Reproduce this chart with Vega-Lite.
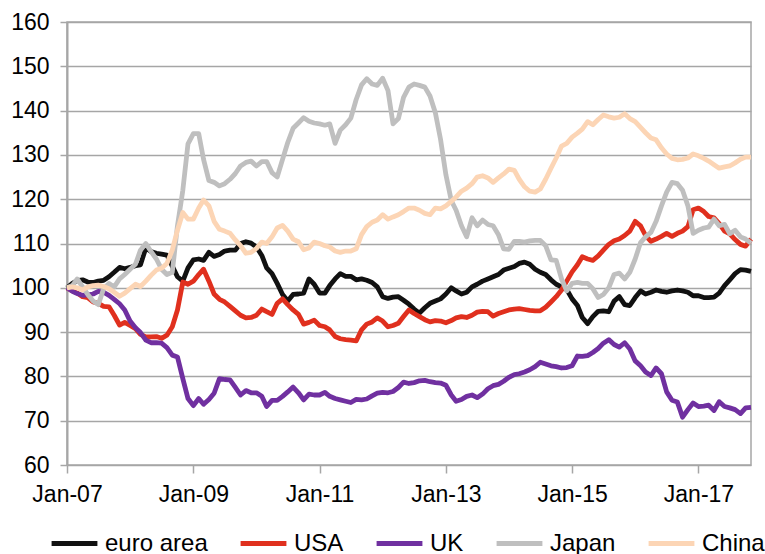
{
"$schema": "https://vega.github.io/schema/vega-lite/v6.json",
"width": 684, "height": 443,
"autosize": {"type": "none"},
"padding": {"left": 67, "top": 22, "right": 14, "bottom": 89},
"background": "white",
"config": {"view": {"stroke": "#a6a6a6", "strokeWidth": 1.5}, "font": "Liberation Sans"},
"data": {"values": [
{"d":"2007-01","s":"euro area","v":100},{"d":"2007-02","s":"euro area","v":101},{"d":"2007-03","s":"euro area","v":101.6},{"d":"2007-04","s":"euro area","v":101.8},{"d":"2007-05","s":"euro area","v":101.3},{"d":"2007-06","s":"euro area","v":101.2},{"d":"2007-07","s":"euro area","v":101.5},{"d":"2007-08","s":"euro area","v":101.7},{"d":"2007-09","s":"euro area","v":102.5},{"d":"2007-10","s":"euro area","v":103.5},{"d":"2007-11","s":"euro area","v":104.6},{"d":"2007-12","s":"euro area","v":104.3},
{"d":"2008-01","s":"euro area","v":104.6},{"d":"2008-02","s":"euro area","v":105},{"d":"2008-03","s":"euro area","v":105.2},{"d":"2008-04","s":"euro area","v":109},{"d":"2008-05","s":"euro area","v":108.2},{"d":"2008-06","s":"euro area","v":107.8},{"d":"2008-07","s":"euro area","v":107.6},{"d":"2008-08","s":"euro area","v":107.4},{"d":"2008-09","s":"euro area","v":104.9},{"d":"2008-10","s":"euro area","v":102.5},{"d":"2008-11","s":"euro area","v":101.5},{"d":"2008-12","s":"euro area","v":104.5},
{"d":"2009-01","s":"euro area","v":106.3},{"d":"2009-02","s":"euro area","v":106.5},{"d":"2009-03","s":"euro area","v":106.2},{"d":"2009-04","s":"euro area","v":108},{"d":"2009-05","s":"euro area","v":107.1},{"d":"2009-06","s":"euro area","v":107.5},{"d":"2009-07","s":"euro area","v":108.3},{"d":"2009-08","s":"euro area","v":108.5},{"d":"2009-09","s":"euro area","v":108.5},{"d":"2009-10","s":"euro area","v":110},{"d":"2009-11","s":"euro area","v":110.4},{"d":"2009-12","s":"euro area","v":110.1},
{"d":"2010-01","s":"euro area","v":109.2},{"d":"2010-02","s":"euro area","v":107.3},{"d":"2010-03","s":"euro area","v":104.5},{"d":"2010-04","s":"euro area","v":103.2},{"d":"2010-05","s":"euro area","v":101},{"d":"2010-06","s":"euro area","v":98.5},{"d":"2010-07","s":"euro area","v":97},{"d":"2010-08","s":"euro area","v":98.5},{"d":"2010-09","s":"euro area","v":98.6},{"d":"2010-10","s":"euro area","v":98.8},{"d":"2010-11","s":"euro area","v":102},{"d":"2010-12","s":"euro area","v":100.8},
{"d":"2011-01","s":"euro area","v":98.8},{"d":"2011-02","s":"euro area","v":98.8},{"d":"2011-03","s":"euro area","v":100.5},{"d":"2011-04","s":"euro area","v":102},{"d":"2011-05","s":"euro area","v":103.2},{"d":"2011-06","s":"euro area","v":102.6},{"d":"2011-07","s":"euro area","v":102.6},{"d":"2011-08","s":"euro area","v":101.8},{"d":"2011-09","s":"euro area","v":102},{"d":"2011-10","s":"euro area","v":101.7},{"d":"2011-11","s":"euro area","v":101.2},{"d":"2011-12","s":"euro area","v":100.2},
{"d":"2012-01","s":"euro area","v":98},{"d":"2012-02","s":"euro area","v":97.6},{"d":"2012-03","s":"euro area","v":97.9},{"d":"2012-04","s":"euro area","v":98},{"d":"2012-05","s":"euro area","v":97.2},{"d":"2012-06","s":"euro area","v":96.3},{"d":"2012-07","s":"euro area","v":95.2},{"d":"2012-08","s":"euro area","v":94.3},{"d":"2012-09","s":"euro area","v":95.5},{"d":"2012-10","s":"euro area","v":96.5},{"d":"2012-11","s":"euro area","v":97},{"d":"2012-12","s":"euro area","v":97.5},
{"d":"2013-01","s":"euro area","v":98.6},{"d":"2013-02","s":"euro area","v":100},{"d":"2013-03","s":"euro area","v":99.3},{"d":"2013-04","s":"euro area","v":98.6},{"d":"2013-05","s":"euro area","v":99},{"d":"2013-06","s":"euro area","v":100.2},{"d":"2013-07","s":"euro area","v":100.8},{"d":"2013-08","s":"euro area","v":101.5},{"d":"2013-09","s":"euro area","v":102},{"d":"2013-10","s":"euro area","v":102.5},{"d":"2013-11","s":"euro area","v":103},{"d":"2013-12","s":"euro area","v":104},
{"d":"2014-01","s":"euro area","v":104.4},{"d":"2014-02","s":"euro area","v":104.8},{"d":"2014-03","s":"euro area","v":105.5},{"d":"2014-04","s":"euro area","v":105.8},{"d":"2014-05","s":"euro area","v":105.3},{"d":"2014-06","s":"euro area","v":104.2},{"d":"2014-07","s":"euro area","v":103.5},{"d":"2014-08","s":"euro area","v":103},{"d":"2014-09","s":"euro area","v":101.8},{"d":"2014-10","s":"euro area","v":100.8},{"d":"2014-11","s":"euro area","v":100.2},{"d":"2014-12","s":"euro area","v":99.6},
{"d":"2015-01","s":"euro area","v":97.5},{"d":"2015-02","s":"euro area","v":96},{"d":"2015-03","s":"euro area","v":93.3},{"d":"2015-04","s":"euro area","v":91.9},{"d":"2015-05","s":"euro area","v":93.5},{"d":"2015-06","s":"euro area","v":94.7},{"d":"2015-07","s":"euro area","v":94.8},{"d":"2015-08","s":"euro area","v":94.6},{"d":"2015-09","s":"euro area","v":97},{"d":"2015-10","s":"euro area","v":98},{"d":"2015-11","s":"euro area","v":96.2},{"d":"2015-12","s":"euro area","v":96},
{"d":"2016-01","s":"euro area","v":97.8},{"d":"2016-02","s":"euro area","v":99.3},{"d":"2016-03","s":"euro area","v":98.6},{"d":"2016-04","s":"euro area","v":99},{"d":"2016-05","s":"euro area","v":99.5},{"d":"2016-06","s":"euro area","v":99.2},{"d":"2016-07","s":"euro area","v":99},{"d":"2016-08","s":"euro area","v":99.3},{"d":"2016-09","s":"euro area","v":99.5},{"d":"2016-10","s":"euro area","v":99.3},{"d":"2016-11","s":"euro area","v":99},{"d":"2016-12","s":"euro area","v":98.2},
{"d":"2017-01","s":"euro area","v":98.2},{"d":"2017-02","s":"euro area","v":97.8},{"d":"2017-03","s":"euro area","v":97.8},{"d":"2017-04","s":"euro area","v":97.9},{"d":"2017-05","s":"euro area","v":98.8},{"d":"2017-06","s":"euro area","v":100.5},{"d":"2017-07","s":"euro area","v":101.8},{"d":"2017-08","s":"euro area","v":103.2},{"d":"2017-09","s":"euro area","v":104.1},{"d":"2017-10","s":"euro area","v":104},{"d":"2017-11","s":"euro area","v":103.7},
{"d":"2007-01","s":"USA","v":100},{"d":"2007-02","s":"USA","v":99.3},{"d":"2007-03","s":"USA","v":98.8},{"d":"2007-04","s":"USA","v":98},{"d":"2007-05","s":"USA","v":97.8},{"d":"2007-06","s":"USA","v":96.8},{"d":"2007-07","s":"USA","v":96.5},{"d":"2007-08","s":"USA","v":95.8},{"d":"2007-09","s":"USA","v":95.7},{"d":"2007-10","s":"USA","v":93.8},{"d":"2007-11","s":"USA","v":91.6},{"d":"2007-12","s":"USA","v":92.2},
{"d":"2008-01","s":"USA","v":91.5},{"d":"2008-02","s":"USA","v":90.8},{"d":"2008-03","s":"USA","v":89.5},{"d":"2008-04","s":"USA","v":88.9},{"d":"2008-05","s":"USA","v":88.9},{"d":"2008-06","s":"USA","v":89},{"d":"2008-07","s":"USA","v":88.6},{"d":"2008-08","s":"USA","v":89.3},{"d":"2008-09","s":"USA","v":91.2},{"d":"2008-10","s":"USA","v":95},{"d":"2008-11","s":"USA","v":101.3},{"d":"2008-12","s":"USA","v":100.8},
{"d":"2009-01","s":"USA","v":101.5},{"d":"2009-02","s":"USA","v":103},{"d":"2009-03","s":"USA","v":104.2},{"d":"2009-04","s":"USA","v":101.5},{"d":"2009-05","s":"USA","v":98.6},{"d":"2009-06","s":"USA","v":97.4},{"d":"2009-07","s":"USA","v":96.8},{"d":"2009-08","s":"USA","v":95.8},{"d":"2009-09","s":"USA","v":94.8},{"d":"2009-10","s":"USA","v":93.8},{"d":"2009-11","s":"USA","v":93.2},{"d":"2009-12","s":"USA","v":93.3},
{"d":"2010-01","s":"USA","v":93.8},{"d":"2010-02","s":"USA","v":95.2},{"d":"2010-03","s":"USA","v":94.6},{"d":"2010-04","s":"USA","v":94},{"d":"2010-05","s":"USA","v":96.5},{"d":"2010-06","s":"USA","v":97.5},{"d":"2010-07","s":"USA","v":96.2},{"d":"2010-08","s":"USA","v":95},{"d":"2010-09","s":"USA","v":94},{"d":"2010-10","s":"USA","v":91.8},{"d":"2010-11","s":"USA","v":92.2},{"d":"2010-12","s":"USA","v":92.7},
{"d":"2011-01","s":"USA","v":91.5},{"d":"2011-02","s":"USA","v":91.2},{"d":"2011-03","s":"USA","v":90.5},{"d":"2011-04","s":"USA","v":89},{"d":"2011-05","s":"USA","v":88.5},{"d":"2011-06","s":"USA","v":88.3},{"d":"2011-07","s":"USA","v":88.2},{"d":"2011-08","s":"USA","v":88},{"d":"2011-09","s":"USA","v":90.5},{"d":"2011-10","s":"USA","v":91.8},{"d":"2011-11","s":"USA","v":92.3},{"d":"2011-12","s":"USA","v":93.2},
{"d":"2012-01","s":"USA","v":92.5},{"d":"2012-02","s":"USA","v":91.2},{"d":"2012-03","s":"USA","v":91.5},{"d":"2012-04","s":"USA","v":92},{"d":"2012-05","s":"USA","v":93.5},{"d":"2012-06","s":"USA","v":95},{"d":"2012-07","s":"USA","v":94.2},{"d":"2012-08","s":"USA","v":93.5},{"d":"2012-09","s":"USA","v":92.8},{"d":"2012-10","s":"USA","v":92.3},{"d":"2012-11","s":"USA","v":92.6},{"d":"2012-12","s":"USA","v":92.5},
{"d":"2013-01","s":"USA","v":92.1},{"d":"2013-02","s":"USA","v":92.6},{"d":"2013-03","s":"USA","v":93.2},{"d":"2013-04","s":"USA","v":93.5},{"d":"2013-05","s":"USA","v":93.3},{"d":"2013-06","s":"USA","v":93.8},{"d":"2013-07","s":"USA","v":94.5},{"d":"2013-08","s":"USA","v":94.7},{"d":"2013-09","s":"USA","v":94.6},{"d":"2013-10","s":"USA","v":93.6},{"d":"2013-11","s":"USA","v":94.2},{"d":"2013-12","s":"USA","v":94.6},
{"d":"2014-01","s":"USA","v":95},{"d":"2014-02","s":"USA","v":95.2},{"d":"2014-03","s":"USA","v":95.3},{"d":"2014-04","s":"USA","v":95.1},{"d":"2014-05","s":"USA","v":94.9},{"d":"2014-06","s":"USA","v":94.8},{"d":"2014-07","s":"USA","v":94.8},{"d":"2014-08","s":"USA","v":95.6},{"d":"2014-09","s":"USA","v":96.8},{"d":"2014-10","s":"USA","v":98},{"d":"2014-11","s":"USA","v":99.5},{"d":"2014-12","s":"USA","v":101.5},
{"d":"2015-01","s":"USA","v":103.6},{"d":"2015-02","s":"USA","v":105.2},{"d":"2015-03","s":"USA","v":107},{"d":"2015-04","s":"USA","v":106.5},{"d":"2015-05","s":"USA","v":106.2},{"d":"2015-06","s":"USA","v":107.2},{"d":"2015-07","s":"USA","v":108.5},{"d":"2015-08","s":"USA","v":109.8},{"d":"2015-09","s":"USA","v":110.6},{"d":"2015-10","s":"USA","v":111},{"d":"2015-11","s":"USA","v":111.8},{"d":"2015-12","s":"USA","v":112.8},
{"d":"2016-01","s":"USA","v":115},{"d":"2016-02","s":"USA","v":114},{"d":"2016-03","s":"USA","v":111.8},{"d":"2016-04","s":"USA","v":110.5},{"d":"2016-05","s":"USA","v":111},{"d":"2016-06","s":"USA","v":111.6},{"d":"2016-07","s":"USA","v":112.3},{"d":"2016-08","s":"USA","v":111.6},{"d":"2016-09","s":"USA","v":112.3},{"d":"2016-10","s":"USA","v":112.8},{"d":"2016-11","s":"USA","v":113.8},{"d":"2016-12","s":"USA","v":117.6},
{"d":"2017-01","s":"USA","v":118},{"d":"2017-02","s":"USA","v":117.2},{"d":"2017-03","s":"USA","v":116.1},{"d":"2017-04","s":"USA","v":115.8},{"d":"2017-05","s":"USA","v":114.5},{"d":"2017-06","s":"USA","v":112.8},{"d":"2017-07","s":"USA","v":112.2},{"d":"2017-08","s":"USA","v":110.9},{"d":"2017-09","s":"USA","v":109.8},{"d":"2017-10","s":"USA","v":109.4},{"d":"2017-11","s":"USA","v":111},
{"d":"2007-01","s":"UK","v":100},{"d":"2007-02","s":"UK","v":99.2},{"d":"2007-03","s":"UK","v":98.7},{"d":"2007-04","s":"UK","v":98.3},{"d":"2007-05","s":"UK","v":98.4},{"d":"2007-06","s":"UK","v":98.6},{"d":"2007-07","s":"UK","v":99.2},{"d":"2007-08","s":"UK","v":99},{"d":"2007-09","s":"UK","v":98.3},{"d":"2007-10","s":"UK","v":97.4},{"d":"2007-11","s":"UK","v":96.4},{"d":"2007-12","s":"UK","v":95},
{"d":"2008-01","s":"UK","v":92.5},{"d":"2008-02","s":"UK","v":91},{"d":"2008-03","s":"UK","v":89.9},{"d":"2008-04","s":"UK","v":88.2},{"d":"2008-05","s":"UK","v":87.6},{"d":"2008-06","s":"UK","v":87.6},{"d":"2008-07","s":"UK","v":87.5},{"d":"2008-08","s":"UK","v":86.5},{"d":"2008-09","s":"UK","v":84.8},{"d":"2008-10","s":"UK","v":84.4},{"d":"2008-11","s":"UK","v":79.5},{"d":"2008-12","s":"UK","v":75},
{"d":"2009-01","s":"UK","v":73.4},{"d":"2009-02","s":"UK","v":75},{"d":"2009-03","s":"UK","v":73.7},{"d":"2009-04","s":"UK","v":74.8},{"d":"2009-05","s":"UK","v":76.2},{"d":"2009-06","s":"UK","v":79.5},{"d":"2009-07","s":"UK","v":79.3},{"d":"2009-08","s":"UK","v":79.2},{"d":"2009-09","s":"UK","v":77.5},{"d":"2009-10","s":"UK","v":75.8},{"d":"2009-11","s":"UK","v":76.8},{"d":"2009-12","s":"UK","v":76.3},
{"d":"2010-01","s":"UK","v":76.3},{"d":"2010-02","s":"UK","v":75.5},{"d":"2010-03","s":"UK","v":73.2},{"d":"2010-04","s":"UK","v":74.6},{"d":"2010-05","s":"UK","v":74.6},{"d":"2010-06","s":"UK","v":75.5},{"d":"2010-07","s":"UK","v":76.5},{"d":"2010-08","s":"UK","v":77.6},{"d":"2010-09","s":"UK","v":76.3},{"d":"2010-10","s":"UK","v":74.7},{"d":"2010-11","s":"UK","v":76},{"d":"2010-12","s":"UK","v":75.8},
{"d":"2011-01","s":"UK","v":75.8},{"d":"2011-02","s":"UK","v":76.4},{"d":"2011-03","s":"UK","v":75.5},{"d":"2011-04","s":"UK","v":75},{"d":"2011-05","s":"UK","v":74.7},{"d":"2011-06","s":"UK","v":74.4},{"d":"2011-07","s":"UK","v":74.1},{"d":"2011-08","s":"UK","v":74.8},{"d":"2011-09","s":"UK","v":74.7},{"d":"2011-10","s":"UK","v":74.9},{"d":"2011-11","s":"UK","v":75.6},{"d":"2011-12","s":"UK","v":76.2},
{"d":"2012-01","s":"UK","v":76.4},{"d":"2012-02","s":"UK","v":76.3},{"d":"2012-03","s":"UK","v":76.6},{"d":"2012-04","s":"UK","v":77.5},{"d":"2012-05","s":"UK","v":78.7},{"d":"2012-06","s":"UK","v":78.4},{"d":"2012-07","s":"UK","v":78.6},{"d":"2012-08","s":"UK","v":79},{"d":"2012-09","s":"UK","v":79.1},{"d":"2012-10","s":"UK","v":78.8},{"d":"2012-11","s":"UK","v":78.6},{"d":"2012-12","s":"UK","v":78.5},
{"d":"2013-01","s":"UK","v":78},{"d":"2013-02","s":"UK","v":75.8},{"d":"2013-03","s":"UK","v":74.4},{"d":"2013-04","s":"UK","v":74.8},{"d":"2013-05","s":"UK","v":75.5},{"d":"2013-06","s":"UK","v":75.8},{"d":"2013-07","s":"UK","v":75.2},{"d":"2013-08","s":"UK","v":76},{"d":"2013-09","s":"UK","v":77.2},{"d":"2013-10","s":"UK","v":77.9},{"d":"2013-11","s":"UK","v":78.2},{"d":"2013-12","s":"UK","v":78.9},
{"d":"2014-01","s":"UK","v":79.8},{"d":"2014-02","s":"UK","v":80.4},{"d":"2014-03","s":"UK","v":80.6},{"d":"2014-04","s":"UK","v":81},{"d":"2014-05","s":"UK","v":81.5},{"d":"2014-06","s":"UK","v":82.2},{"d":"2014-07","s":"UK","v":83.2},{"d":"2014-08","s":"UK","v":82.8},{"d":"2014-09","s":"UK","v":82.4},{"d":"2014-10","s":"UK","v":82.2},{"d":"2014-11","s":"UK","v":81.9},{"d":"2014-12","s":"UK","v":82},
{"d":"2015-01","s":"UK","v":82.4},{"d":"2015-02","s":"UK","v":84.6},{"d":"2015-03","s":"UK","v":84.5},{"d":"2015-04","s":"UK","v":84.7},{"d":"2015-05","s":"UK","v":85.4},{"d":"2015-06","s":"UK","v":86.3},{"d":"2015-07","s":"UK","v":87.5},{"d":"2015-08","s":"UK","v":88.3},{"d":"2015-09","s":"UK","v":87.2},{"d":"2015-10","s":"UK","v":86.6},{"d":"2015-11","s":"UK","v":87.6},{"d":"2015-12","s":"UK","v":86.2},
{"d":"2016-01","s":"UK","v":83.5},{"d":"2016-02","s":"UK","v":82.4},{"d":"2016-03","s":"UK","v":81},{"d":"2016-04","s":"UK","v":80.2},{"d":"2016-05","s":"UK","v":81.9},{"d":"2016-06","s":"UK","v":80.6},{"d":"2016-07","s":"UK","v":76.5},{"d":"2016-08","s":"UK","v":74.6},{"d":"2016-09","s":"UK","v":74.2},{"d":"2016-10","s":"UK","v":70.8},{"d":"2016-11","s":"UK","v":72.5},{"d":"2016-12","s":"UK","v":74},
{"d":"2017-01","s":"UK","v":73.2},{"d":"2017-02","s":"UK","v":73.3},{"d":"2017-03","s":"UK","v":73.5},{"d":"2017-04","s":"UK","v":72.3},{"d":"2017-05","s":"UK","v":74.3},{"d":"2017-06","s":"UK","v":73.2},{"d":"2017-07","s":"UK","v":72.9},{"d":"2017-08","s":"UK","v":72.5},{"d":"2017-09","s":"UK","v":71.6},{"d":"2017-10","s":"UK","v":72.9},{"d":"2017-11","s":"UK","v":73},
{"d":"2007-01","s":"Japan","v":100},{"d":"2007-02","s":"Japan","v":100.5},{"d":"2007-03","s":"Japan","v":102},{"d":"2007-04","s":"Japan","v":100.2},{"d":"2007-05","s":"Japan","v":98.5},{"d":"2007-06","s":"Japan","v":97},{"d":"2007-07","s":"Japan","v":96.2},{"d":"2007-08","s":"Japan","v":99.8},{"d":"2007-09","s":"Japan","v":101},{"d":"2007-10","s":"Japan","v":100.2},{"d":"2007-11","s":"Japan","v":102},{"d":"2007-12","s":"Japan","v":103},
{"d":"2008-01","s":"Japan","v":104.2},{"d":"2008-02","s":"Japan","v":105.3},{"d":"2008-03","s":"Japan","v":108.5},{"d":"2008-04","s":"Japan","v":110},{"d":"2008-05","s":"Japan","v":108.2},{"d":"2008-06","s":"Japan","v":106.5},{"d":"2008-07","s":"Japan","v":104.2},{"d":"2008-08","s":"Japan","v":103},{"d":"2008-09","s":"Japan","v":103.5},{"d":"2008-10","s":"Japan","v":114},{"d":"2008-11","s":"Japan","v":122},{"d":"2008-12","s":"Japan","v":132.5},
{"d":"2009-01","s":"Japan","v":134.8},{"d":"2009-02","s":"Japan","v":134.8},{"d":"2009-03","s":"Japan","v":129},{"d":"2009-04","s":"Japan","v":124.2},{"d":"2009-05","s":"Japan","v":123.8},{"d":"2009-06","s":"Japan","v":123},{"d":"2009-07","s":"Japan","v":123.5},{"d":"2009-08","s":"Japan","v":124.5},{"d":"2009-09","s":"Japan","v":125.8},{"d":"2009-10","s":"Japan","v":127.5},{"d":"2009-11","s":"Japan","v":128.3},{"d":"2009-12","s":"Japan","v":128.6},
{"d":"2010-01","s":"Japan","v":127.5},{"d":"2010-02","s":"Japan","v":128.5},{"d":"2010-03","s":"Japan","v":128.5},{"d":"2010-04","s":"Japan","v":126},{"d":"2010-05","s":"Japan","v":125},{"d":"2010-06","s":"Japan","v":129},{"d":"2010-07","s":"Japan","v":132.8},{"d":"2010-08","s":"Japan","v":136},{"d":"2010-09","s":"Japan","v":137.2},{"d":"2010-10","s":"Japan","v":138.4},{"d":"2010-11","s":"Japan","v":137.6},{"d":"2010-12","s":"Japan","v":137.2},
{"d":"2011-01","s":"Japan","v":137},{"d":"2011-02","s":"Japan","v":136.7},{"d":"2011-03","s":"Japan","v":137},{"d":"2011-04","s":"Japan","v":132.6},{"d":"2011-05","s":"Japan","v":135.6},{"d":"2011-06","s":"Japan","v":136.8},{"d":"2011-07","s":"Japan","v":138.3},{"d":"2011-08","s":"Japan","v":142.5},{"d":"2011-09","s":"Japan","v":145.8},{"d":"2011-10","s":"Japan","v":147.2},{"d":"2011-11","s":"Japan","v":146},{"d":"2011-12","s":"Japan","v":145.7},
{"d":"2012-01","s":"Japan","v":147.3},{"d":"2012-02","s":"Japan","v":144.5},{"d":"2012-03","s":"Japan","v":137},{"d":"2012-04","s":"Japan","v":138.2},{"d":"2012-05","s":"Japan","v":143},{"d":"2012-06","s":"Japan","v":145.3},{"d":"2012-07","s":"Japan","v":146},{"d":"2012-08","s":"Japan","v":145.7},{"d":"2012-09","s":"Japan","v":145.3},{"d":"2012-10","s":"Japan","v":143.3},{"d":"2012-11","s":"Japan","v":139.5},{"d":"2012-12","s":"Japan","v":133.5},
{"d":"2013-01","s":"Japan","v":125.5},{"d":"2013-02","s":"Japan","v":119.7},{"d":"2013-03","s":"Japan","v":117.5},{"d":"2013-04","s":"Japan","v":114},{"d":"2013-05","s":"Japan","v":111.5},{"d":"2013-06","s":"Japan","v":115.8},{"d":"2013-07","s":"Japan","v":114},{"d":"2013-08","s":"Japan","v":115.3},{"d":"2013-09","s":"Japan","v":114.3},{"d":"2013-10","s":"Japan","v":114},{"d":"2013-11","s":"Japan","v":112},{"d":"2013-12","s":"Japan","v":108.8},
{"d":"2014-01","s":"Japan","v":108.7},{"d":"2014-02","s":"Japan","v":110.5},{"d":"2014-03","s":"Japan","v":110.5},{"d":"2014-04","s":"Japan","v":110.3},{"d":"2014-05","s":"Japan","v":110.6},{"d":"2014-06","s":"Japan","v":110.7},{"d":"2014-07","s":"Japan","v":110.7},{"d":"2014-08","s":"Japan","v":109.5},{"d":"2014-09","s":"Japan","v":106.3},{"d":"2014-10","s":"Japan","v":106.2},{"d":"2014-11","s":"Japan","v":102},{"d":"2014-12","s":"Japan","v":99.3},
{"d":"2015-01","s":"Japan","v":101},{"d":"2015-02","s":"Japan","v":101.2},{"d":"2015-03","s":"Japan","v":101},{"d":"2015-04","s":"Japan","v":101},{"d":"2015-05","s":"Japan","v":99.8},{"d":"2015-06","s":"Japan","v":97.8},{"d":"2015-07","s":"Japan","v":98.5},{"d":"2015-08","s":"Japan","v":100},{"d":"2015-09","s":"Japan","v":103},{"d":"2015-10","s":"Japan","v":103.3},{"d":"2015-11","s":"Japan","v":102},{"d":"2015-12","s":"Japan","v":103.5},
{"d":"2016-01","s":"Japan","v":106.5},{"d":"2016-02","s":"Japan","v":110.2},{"d":"2016-03","s":"Japan","v":111.5},{"d":"2016-04","s":"Japan","v":112.5},{"d":"2016-05","s":"Japan","v":115},{"d":"2016-06","s":"Japan","v":118.5},{"d":"2016-07","s":"Japan","v":121.6},{"d":"2016-08","s":"Japan","v":123.8},{"d":"2016-09","s":"Japan","v":123.5},{"d":"2016-10","s":"Japan","v":122},{"d":"2016-11","s":"Japan","v":118.5},{"d":"2016-12","s":"Japan","v":112.3},
{"d":"2017-01","s":"Japan","v":113},{"d":"2017-02","s":"Japan","v":113.5},{"d":"2017-03","s":"Japan","v":113.7},{"d":"2017-04","s":"Japan","v":115.5},{"d":"2017-05","s":"Japan","v":114},{"d":"2017-06","s":"Japan","v":114.3},{"d":"2017-07","s":"Japan","v":112.2},{"d":"2017-08","s":"Japan","v":113},{"d":"2017-09","s":"Japan","v":111.5},{"d":"2017-10","s":"Japan","v":111},{"d":"2017-11","s":"Japan","v":110.1},
{"d":"2007-01","s":"China","v":100},{"d":"2007-02","s":"China","v":100.2},{"d":"2007-03","s":"China","v":100},{"d":"2007-04","s":"China","v":99.5},{"d":"2007-05","s":"China","v":100.2},{"d":"2007-06","s":"China","v":100.5},{"d":"2007-07","s":"China","v":100.6},{"d":"2007-08","s":"China","v":100.3},{"d":"2007-09","s":"China","v":99.8},{"d":"2007-10","s":"China","v":99},{"d":"2007-11","s":"China","v":98.1},{"d":"2007-12","s":"China","v":98.8},
{"d":"2008-01","s":"China","v":99.8},{"d":"2008-02","s":"China","v":100.8},{"d":"2008-03","s":"China","v":100.3},{"d":"2008-04","s":"China","v":101.5},{"d":"2008-05","s":"China","v":102.8},{"d":"2008-06","s":"China","v":104},{"d":"2008-07","s":"China","v":104.4},{"d":"2008-08","s":"China","v":105.5},{"d":"2008-09","s":"China","v":108.5},{"d":"2008-10","s":"China","v":113},{"d":"2008-11","s":"China","v":117},{"d":"2008-12","s":"China","v":115.5},
{"d":"2009-01","s":"China","v":115.5},{"d":"2009-02","s":"China","v":118},{"d":"2009-03","s":"China","v":119.8},{"d":"2009-04","s":"China","v":118.5},{"d":"2009-05","s":"China","v":115},{"d":"2009-06","s":"China","v":113.2},{"d":"2009-07","s":"China","v":112.8},{"d":"2009-08","s":"China","v":112.3},{"d":"2009-09","s":"China","v":110.8},{"d":"2009-10","s":"China","v":109.5},{"d":"2009-11","s":"China","v":107.8},{"d":"2009-12","s":"China","v":108},
{"d":"2010-01","s":"China","v":108.9},{"d":"2010-02","s":"China","v":110.3},{"d":"2010-03","s":"China","v":110},{"d":"2010-04","s":"China","v":111.5},{"d":"2010-05","s":"China","v":113.5},{"d":"2010-06","s":"China","v":114.1},{"d":"2010-07","s":"China","v":112.8},{"d":"2010-08","s":"China","v":111},{"d":"2010-09","s":"China","v":110.4},{"d":"2010-10","s":"China","v":108.6},{"d":"2010-11","s":"China","v":109},{"d":"2010-12","s":"China","v":110.3},
{"d":"2011-01","s":"China","v":110},{"d":"2011-02","s":"China","v":109.5},{"d":"2011-03","s":"China","v":109.2},{"d":"2011-04","s":"China","v":108.3},{"d":"2011-05","s":"China","v":108},{"d":"2011-06","s":"China","v":108.3},{"d":"2011-07","s":"China","v":108.3},{"d":"2011-08","s":"China","v":108.8},{"d":"2011-09","s":"China","v":112},{"d":"2011-10","s":"China","v":113.8},{"d":"2011-11","s":"China","v":114.8},{"d":"2011-12","s":"China","v":115.3},
{"d":"2012-01","s":"China","v":116.5},{"d":"2012-02","s":"China","v":115.5},{"d":"2012-03","s":"China","v":116},{"d":"2012-04","s":"China","v":116.5},{"d":"2012-05","s":"China","v":117.2},{"d":"2012-06","s":"China","v":118},{"d":"2012-07","s":"China","v":118},{"d":"2012-08","s":"China","v":117.5},{"d":"2012-09","s":"China","v":116.8},{"d":"2012-10","s":"China","v":116.5},{"d":"2012-11","s":"China","v":118},{"d":"2012-12","s":"China","v":117.8},
{"d":"2013-01","s":"China","v":118.5},{"d":"2013-02","s":"China","v":119.5},{"d":"2013-03","s":"China","v":120.5},{"d":"2013-04","s":"China","v":121.8},{"d":"2013-05","s":"China","v":122.5},{"d":"2013-06","s":"China","v":123.5},{"d":"2013-07","s":"China","v":125},{"d":"2013-08","s":"China","v":125.3},{"d":"2013-09","s":"China","v":124.8},{"d":"2013-10","s":"China","v":123.8},{"d":"2013-11","s":"China","v":124.8},{"d":"2013-12","s":"China","v":125.7},
{"d":"2014-01","s":"China","v":126.8},{"d":"2014-02","s":"China","v":126.5},{"d":"2014-03","s":"China","v":124.5},{"d":"2014-04","s":"China","v":122.8},{"d":"2014-05","s":"China","v":121.8},{"d":"2014-06","s":"China","v":121.6},{"d":"2014-07","s":"China","v":122.3},{"d":"2014-08","s":"China","v":124.5},{"d":"2014-09","s":"China","v":127},{"d":"2014-10","s":"China","v":129.3},{"d":"2014-11","s":"China","v":132},{"d":"2014-12","s":"China","v":132.6},
{"d":"2015-01","s":"China","v":134},{"d":"2015-02","s":"China","v":134.9},{"d":"2015-03","s":"China","v":135.8},{"d":"2015-04","s":"China","v":137.5},{"d":"2015-05","s":"China","v":136.8},{"d":"2015-06","s":"China","v":138},{"d":"2015-07","s":"China","v":139},{"d":"2015-08","s":"China","v":138.6},{"d":"2015-09","s":"China","v":138.3},{"d":"2015-10","s":"China","v":138.5},{"d":"2015-11","s":"China","v":139.3},{"d":"2015-12","s":"China","v":138.2},
{"d":"2016-01","s":"China","v":137.5},{"d":"2016-02","s":"China","v":136.2},{"d":"2016-03","s":"China","v":135},{"d":"2016-04","s":"China","v":133.8},{"d":"2016-05","s":"China","v":133.4},{"d":"2016-06","s":"China","v":131.6},{"d":"2016-07","s":"China","v":130.2},{"d":"2016-08","s":"China","v":129.2},{"d":"2016-09","s":"China","v":128.9},{"d":"2016-10","s":"China","v":129},{"d":"2016-11","s":"China","v":129.3},{"d":"2016-12","s":"China","v":130.2},
{"d":"2017-01","s":"China","v":129.8},{"d":"2017-02","s":"China","v":129.2},{"d":"2017-03","s":"China","v":128.6},{"d":"2017-04","s":"China","v":127.8},{"d":"2017-05","s":"China","v":127},{"d":"2017-06","s":"China","v":127.3},{"d":"2017-07","s":"China","v":127.5},{"d":"2017-08","s":"China","v":128.2},{"d":"2017-09","s":"China","v":129},{"d":"2017-10","s":"China","v":129.5},{"d":"2017-11","s":"China","v":129.5}
]},
"mark": {"type": "line", "strokeWidth": 4.8, "strokeJoin": "round", "strokeCap": "butt"},
"encoding": {
  "x": {"field": "d", "type": "temporal",
        "scale": {"type": "utc", "domain": [{"year": 2007, "month": 1, "date": 1, "utc": true}, {"year": 2017, "month": 11, "date": 1, "utc": true}]},
        "axis": {"title": null, "values": [{"year": 2007, "month": 1, "date": 1, "utc": true}, {"year": 2009, "month": 1, "date": 1, "utc": true}, {"year": 2011, "month": 1, "date": 1, "utc": true}, {"year": 2013, "month": 1, "date": 1, "utc": true}, {"year": 2015, "month": 1, "date": 1, "utc": true}, {"year": 2017, "month": 1, "date": 1, "utc": true}],
                 "labelExpr": "utcFormat(datum.value, '%b-%y')", "grid": false, "domain": false,
                 "tickColor": "#a6a6a6", "tickWidth": 1.5, "tickSize": 8,
                 "labelFontSize": 23, "labelColor": "#000000", "labelPadding": 10, "labelFlush": false, "labelOverlap": false}},
  "y": {"field": "v", "type": "quantitative",
        "scale": {"domain": [60, 160], "nice": false, "zero": false},
        "axis": {"title": null, "values": [60, 70, 80, 90, 100, 110, 120, 130, 140, 150, 160],
                 "grid": true, "gridColor": "#a6a6a6", "gridWidth": 1.5,
                 "domainColor": "#a6a6a6", "domainWidth": 2,
                 "tickColor": "#a6a6a6", "tickWidth": 1.5, "tickSize": 7,
                 "labelFontSize": 23, "labelColor": "#000000", "labelPadding": 11}},
  "color": {"field": "s", "type": "nominal",
        "scale": {"domain": ["euro area", "USA", "UK", "Japan", "China"], "range": ["#111111", "#e0301e", "#7030a0", "#bfbfbf", "#fcd5b5"]},
        "legend": {"title": null, "orient": "none", "legendX": -18, "legendY": 496, "direction": "horizontal", "columns": 5,
                   "symbolType": "stroke", "symbolSize": 2100, "symbolStrokeWidth": 5,
                   "labelFontSize": 24, "labelColor": "#000000", "labelOffset": 5, "columnPadding": 22, "gridAlign": "none", "padding": 0}}
}
}
